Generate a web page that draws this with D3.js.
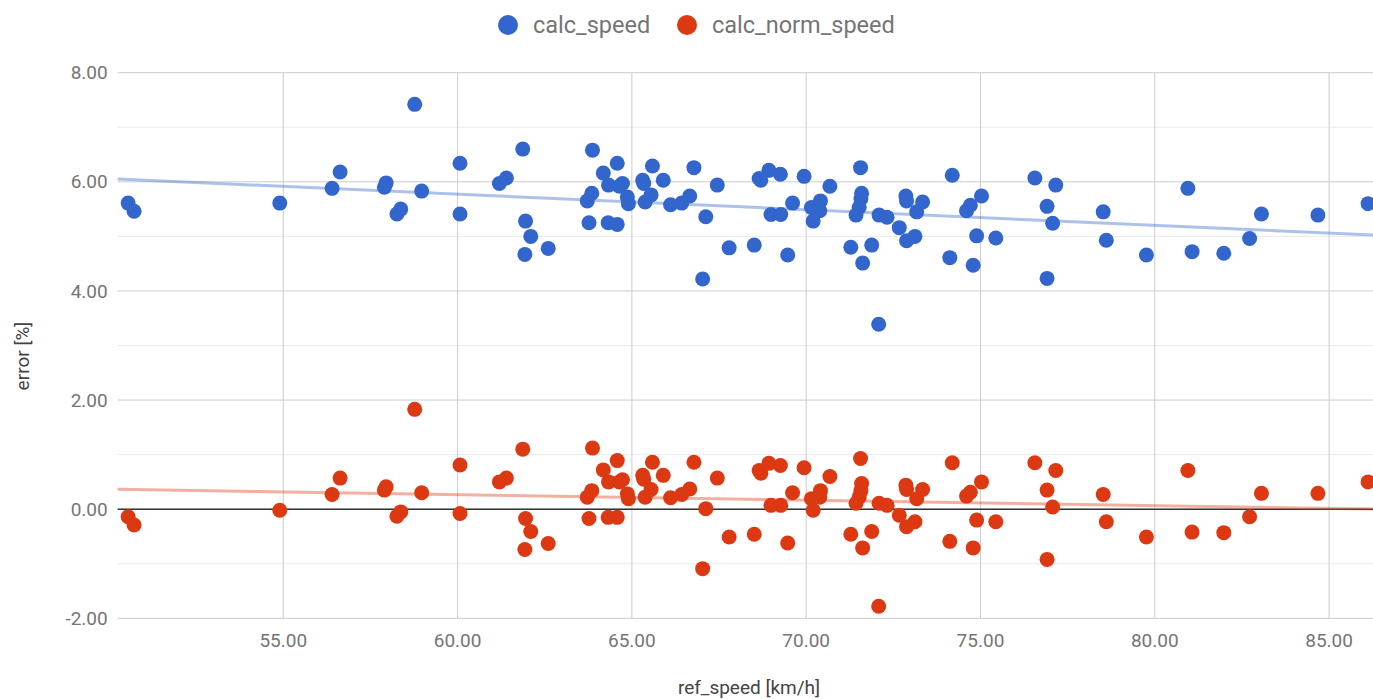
<!DOCTYPE html>
<html>
<head>
<meta charset="utf-8">
<script src="https://cdn.jsdelivr.net/npm/d3@7"></script>
<style>
  body { margin: 0; background: #fff; }
  text { font-family: Roboto, "Noto Sans", sans-serif; }
</style>
</head>
<body>
<div id="chart"></div>
<script>
// Data (x shared by both series)
const refSpeed = [
  50.55, 50.72, 54.90, 56.40, 56.63, 57.90, 57.95, 58.26, 58.37, 58.77,
  58.97, 60.07, 60.07, 61.20, 61.40, 61.87, 61.95, 62.10, 61.93, 62.60,
  63.87, 64.58, 64.18, 64.33, 64.64, 64.73, 63.85, 63.72, 64.87, 64.90,
  63.77, 64.32, 64.58, 65.31, 65.34, 65.59, 65.90, 65.55, 65.38, 66.11,
  66.43, 66.66, 66.78, 67.12, 67.45, 67.03, 67.79, 68.51, 68.65, 68.70,
  68.93, 69.26, 68.99, 69.27, 69.47, 69.61, 69.94, 70.15, 70.20, 70.41,
  70.39, 70.68, 71.28, 71.62, 71.88, 71.56, 71.59, 71.57, 71.52, 71.43,
  72.09, 72.32, 72.67, 72.86, 72.88, 73.34, 73.17, 72.88, 73.12, 74.19,
  74.12, 74.60, 74.71, 75.03, 74.89, 74.79, 75.44, 72.08, 76.56, 77.16,
  76.91, 77.07, 76.91, 78.52, 78.61, 79.76, 80.95, 81.07, 81.98, 82.72,
  83.06, 84.68, 86.12
];
const calcSpeed = [
  5.61, 5.46, 5.61, 5.88, 6.18, 5.90, 5.98, 5.41, 5.50, 7.42,
  5.83, 6.34, 5.41, 5.97, 6.07, 6.60, 5.28, 5.00, 4.67, 4.78,
  6.58, 6.34, 6.16, 5.94, 5.92, 5.97, 5.79, 5.65, 5.72, 5.60,
  5.25, 5.25, 5.22, 6.03, 5.97, 6.29, 6.03, 5.76, 5.63, 5.58,
  5.61, 5.74, 6.26, 5.36, 5.94, 4.22, 4.79, 4.84, 6.06, 6.03,
  6.21, 6.14, 5.40, 5.40, 4.66, 5.61, 6.10, 5.53, 5.28, 5.65,
  5.47, 5.92, 4.80, 4.51, 4.84, 6.26, 5.79, 5.69, 5.53, 5.39,
  5.39, 5.35, 5.16, 5.74, 5.65, 5.63, 5.45, 4.92, 5.00, 6.12,
  4.61, 5.47, 5.57, 5.74, 5.01, 4.47, 4.97, 3.39, 6.07, 5.94,
  5.55, 5.24, 4.23, 5.45, 4.93, 4.66, 5.88, 4.72, 4.69, 4.96,
  5.41, 5.39, 5.60
];
const calcNormSpeed = [
  -0.14, -0.29, -0.02, 0.27, 0.57, 0.35, 0.41, -0.13, -0.05, 1.83,
  0.30, 0.81, -0.08, 0.50, 0.57, 1.10, -0.17, -0.41, -0.74, -0.63,
  1.12, 0.89, 0.72, 0.50, 0.50, 0.54, 0.34, 0.22, 0.28, 0.19,
  -0.17, -0.15, -0.15, 0.62, 0.55, 0.86, 0.62, 0.36, 0.22, 0.21,
  0.27, 0.37, 0.86, 0.01, 0.57, -1.09, -0.51, -0.46, 0.71, 0.66,
  0.84, 0.80, 0.07, 0.07, -0.62, 0.30, 0.76, 0.19, -0.02, 0.34,
  0.22, 0.60, -0.46, -0.71, -0.41, 0.93, 0.47, 0.34, 0.22, 0.11,
  0.11, 0.07, -0.11, 0.44, 0.36, 0.36, 0.19, -0.32, -0.23, 0.85,
  -0.59, 0.24, 0.31, 0.50, -0.20, -0.71, -0.23, -1.78, 0.85, 0.71,
  0.35, 0.04, -0.92, 0.27, -0.23, -0.51, 0.71, -0.42, -0.43, -0.14,
  0.29, 0.29, 0.50
];
const seriesNames = ["calc_speed", "calc_norm_speed"];
const seriesColors = ["#3366cc", "#dc3912"];
const xTicks = [55, 60, 65, 70, 75, 80, 85];
const yTicks = [-2, 0, 2, 4, 6, 8];
const yMinorTicks = [-1, 1, 3, 5, 7];

const W = 1373, H = 699;
const plot = { left: 117.7, right: 1373, top: 72.7, bottom: 618.3 };

const svg = d3.select("#chart").append("svg")
  .attr("width", W).attr("height", H);

const x = d3.scaleLinear().domain([50.25, 86.26]).range([plot.left, plot.right]);
const y = d3.scaleLinear().domain([-2, 8]).range([plot.bottom, plot.top]);

// plain hyphen for negatives, like the original
const fmt = v => v.toFixed(2);

// minor horizontal gridlines
svg.append("g").selectAll("line").data(yMinorTicks).join("line")
  .attr("x1", plot.left).attr("x2", plot.right)
  .attr("y1", d => y(d)).attr("y2", d => y(d))
  .attr("stroke", "#ebebeb").attr("stroke-width", 1);

// major gridlines
svg.append("g").selectAll("line").data(yTicks).join("line")
  .attr("x1", plot.left).attr("x2", plot.right)
  .attr("y1", d => y(d)).attr("y2", d => y(d))
  .attr("stroke", "#cccccc").attr("stroke-width", 1);

svg.append("g").selectAll("line").data(xTicks).join("line")
  .attr("x1", d => x(d)).attr("x2", d => x(d))
  .attr("y1", plot.top).attr("y2", plot.bottom)
  .attr("stroke", "#cccccc").attr("stroke-width", 1);

// baseline at zero
svg.append("line")
  .attr("x1", plot.left).attr("x2", plot.right)
  .attr("y1", y(0)).attr("y2", y(0))
  .attr("stroke", "#333").attr("stroke-width", 1.5);

// tick labels
svg.append("g").selectAll("text").data(yTicks).join("text")
  .attr("x", plot.left - 10).attr("y", d => y(d))
  .attr("dy", "0.35em").attr("text-anchor", "end")
  .attr("font-size", 19).attr("fill", "#757575")
  .text(fmt);

svg.append("g").selectAll("text").data(xTicks).join("text")
  .attr("x", d => x(d)).attr("y", 647)
  .attr("text-anchor", "middle")
  .attr("font-size", 19).attr("fill", "#757575")
  .text(fmt);

// axis titles
svg.append("text")
  .attr("x", 749).attr("y", 694)
  .attr("text-anchor", "middle").attr("font-size", 19).attr("fill", "#444")
  .text("ref_speed [km/h]");

svg.append("text")
  .attr("transform", `translate(29, 356) rotate(-90)`)
  .attr("text-anchor", "middle").attr("font-size", 19).attr("fill", "#444")
  .text("error [%]");

// data rows
const series = [calcSpeed, calcNormSpeed].map((vals, i) => ({
  name: seriesNames[i],
  color: seriesColors[i],
  points: vals.map((v, j) => ({ x: refSpeed[j], y: v }))
}));

// linear trendlines (least squares)
function fit(points) {
  const mx = d3.mean(points, p => p.x), my = d3.mean(points, p => p.y);
  const sxy = d3.sum(points, p => (p.x - mx) * (p.y - my));
  const sxx = d3.sum(points, p => (p.x - mx) ** 2);
  const m = sxy / sxx;
  return xv => my + m * (xv - mx);
}

svg.append("clipPath").attr("id", "plot-clip")
  .append("rect").attr("x", plot.left).attr("y", plot.top - 10)
  .attr("width", plot.right - plot.left).attr("height", plot.bottom - plot.top + 20);

const dom = x.domain();
series.forEach(s => {
  const f = fit(s.points);
  svg.append("line")
    .attr("x1", x(dom[0])).attr("y1", y(f(dom[0])))
    .attr("x2", x(dom[1])).attr("y2", y(f(dom[1])))
    .attr("stroke", s.color).attr("stroke-opacity", 0.4)
    .attr("stroke-width", 3);
});

series.forEach(s => {
  svg.append("g").attr("clip-path", "url(#plot-clip)")
    .selectAll("circle").data(s.points).join("circle")
    .attr("cx", d => x(d.x)).attr("cy", d => y(d.y))
    .attr("r", 7.5).attr("fill", s.color);
});

// legend
const legendX = [508, 687];
series.forEach((s, i) => {
  svg.append("circle").attr("cx", legendX[i]).attr("cy", 25)
    .attr("r", 10).attr("fill", s.color);
  svg.append("text").attr("x", legendX[i] + 25).attr("y", 33)
    .attr("font-size", 23.5).attr("fill", "#757575")
    .text(s.name);
});
</script>
</body>
</html>
